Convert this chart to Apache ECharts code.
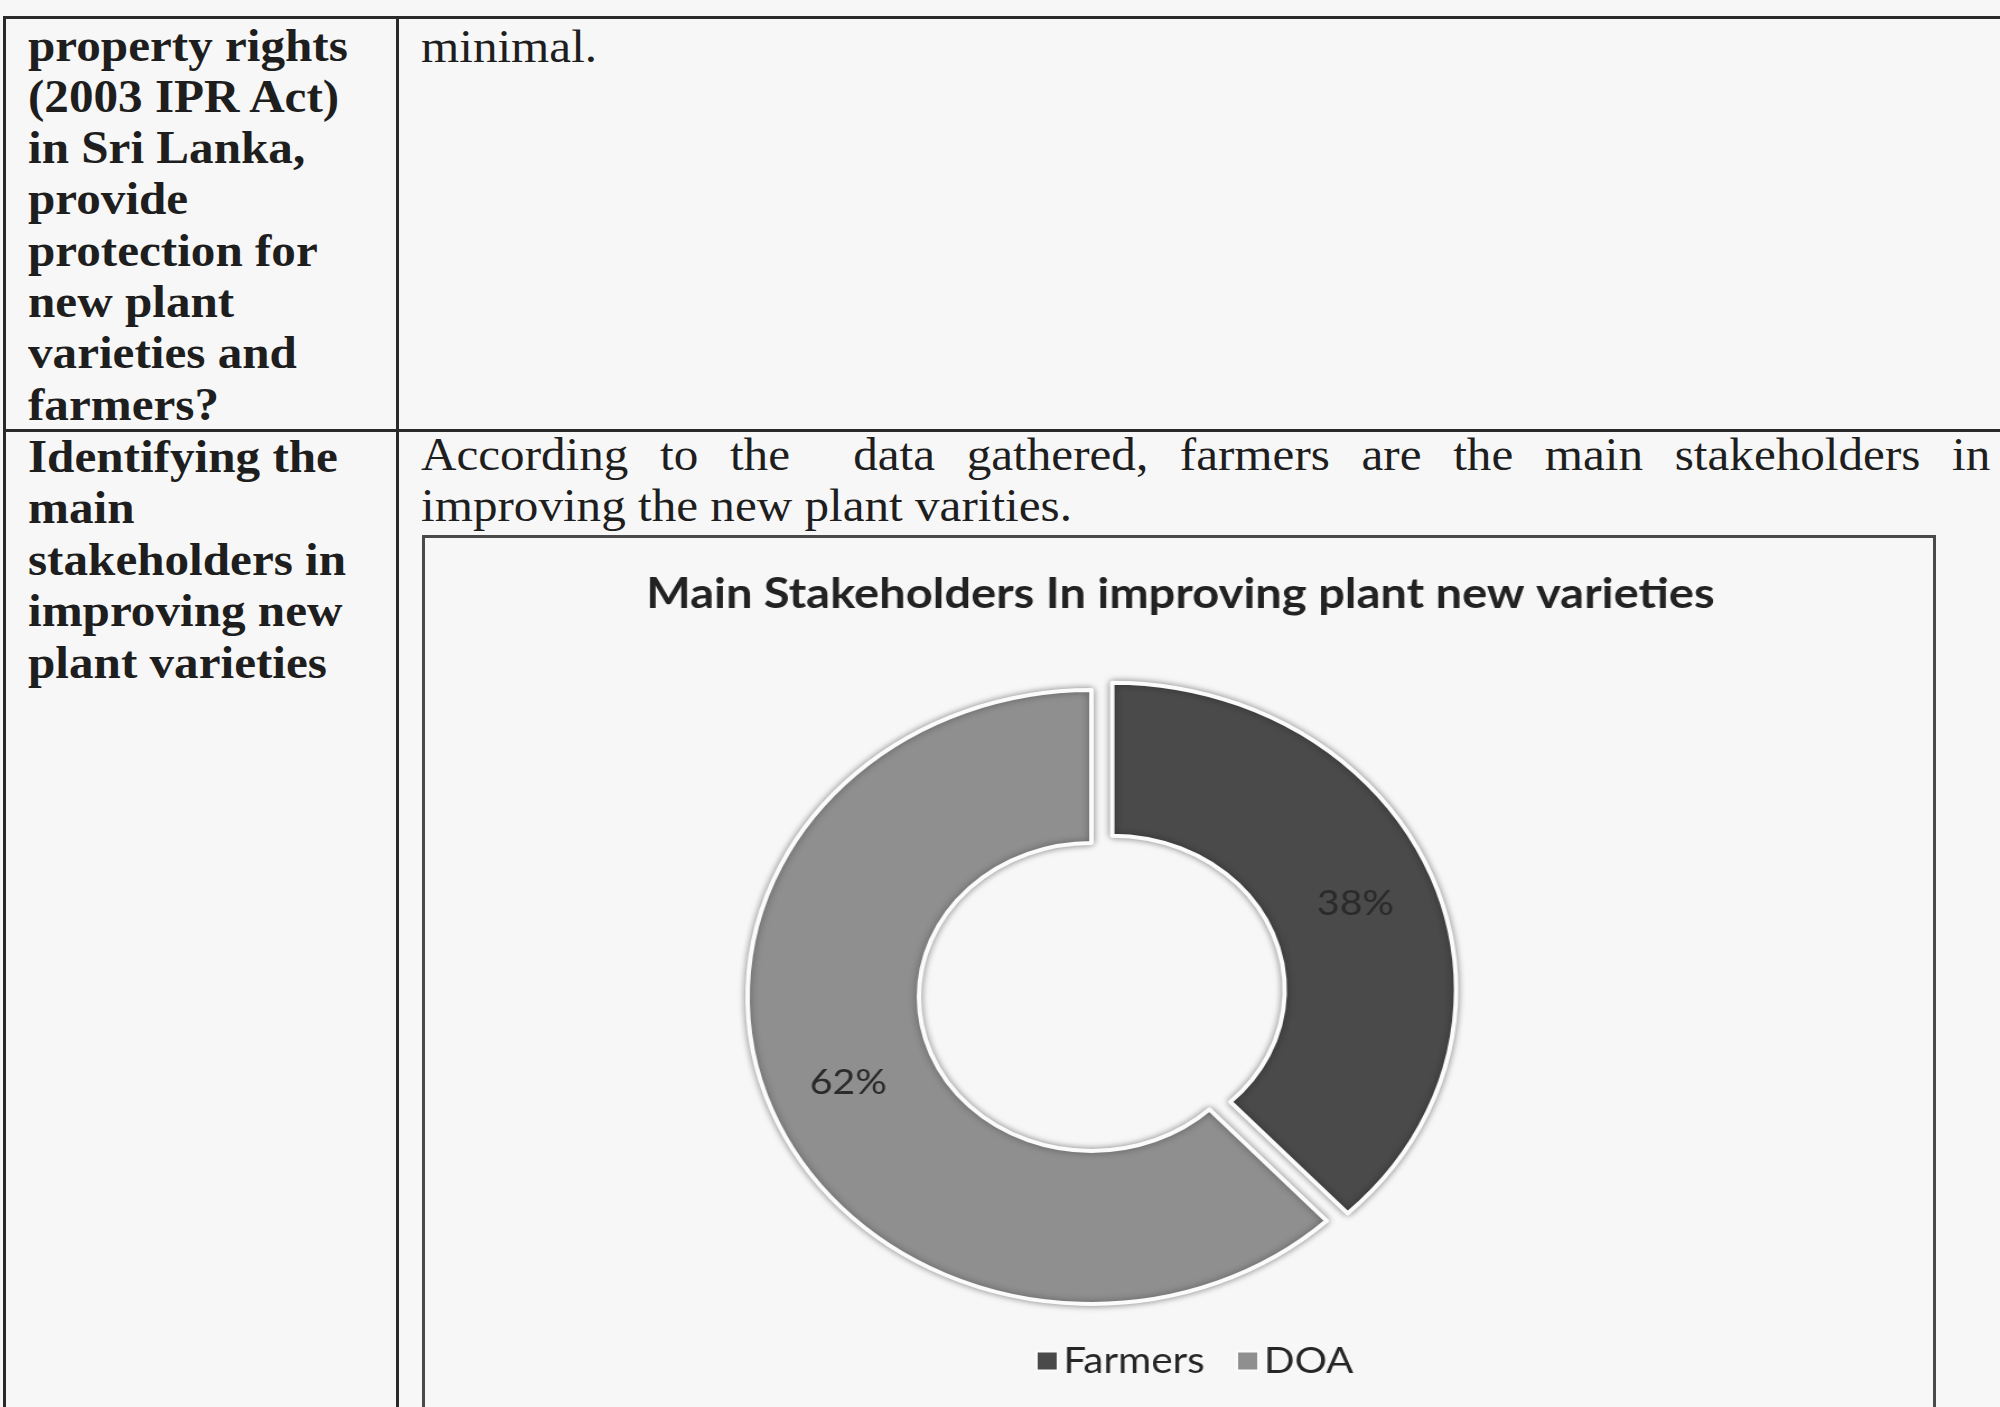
<!DOCTYPE html>
<html>
<head>
<meta charset="utf-8">
<script src="https://cdn.jsdelivr.net/npm/echarts@6/dist/echarts.min.js"></script>
<style>
  html, body { margin: 0; padding: 0; }
  body { width: 2000px; height: 1407px; background: #f7f7f7; position: relative; overflow: hidden; }
  .ln { position: absolute; background: #2a2a2a; }
  .txt {
    position: absolute; transform: scaleX(1.08); transform-origin: 0 0;
    font-family: "Liberation Serif", "Times New Roman", serif; font-size: 45.5px;
    color: #1e1e1e; white-space: nowrap;
  }
  .bold { font-weight: bold; }
  .box { position: absolute; left: 422px; top: 535px; width: 1514px; height: 900px; border: 3px solid #4a4a4a; box-sizing: border-box; }
  .StakeChart { position: absolute; left: 425px; top: 539px; transform: scaleX(1.12); transform-origin: 0 0; }
</style>
</head>
<body>
  <!-- table rules -->
  <div class="ln" style="left:3px;top:16px;width:1997px;height:3px"></div>
  <div class="ln" style="left:3px;top:16px;width:3px;height:1391px"></div>
  <div class="ln" style="left:396px;top:16px;width:3px;height:1391px"></div>
  <div class="ln" style="left:3px;top:429px;width:1997px;height:3px"></div>

  <div class="txt bold" style="left:28px;top:19.5px;line-height:51.3px">
    property rights<br>(2003 IPR Act)<br>in Sri Lanka,<br>provide<br>protection for<br>new plant<br>varieties and<br>farmers?
  </div>
  <div class="txt" style="left:421px;top:20.5px;line-height:51.3px">minimal.</div>

  <div class="txt bold" style="left:28px;top:431px;line-height:51.4px">
    Identifying the<br>main<br>stakeholders in<br>improving new<br>plant varieties
  </div>
  <div class="txt" style="left:421px;top:429px;line-height:51.4px;width:1453px;white-space:normal;text-align:justify;text-align-last:justify">According to the&nbsp; data gathered, farmers are the main stakeholders in</div>
  <div class="txt" style="left:421px;top:480.4px;line-height:51.4px">improving the new plant varities.</div>

  <div class="box"></div>
  <div class="StakeChart" style="width:1349px;height:868px"></div>

<script>
const chartTitle = "Main Stakeholders In improving plant new varieties";
const categories = ["Farmers", "DOA"];
const shares = [38, 62];
const sliceColors = ["#4a4a4a", "#8f8f8f"];

const chart = echarts.init(document.getElementsByClassName("StakeChart")[0], null, { renderer: "canvas" });

const option = {
  backgroundColor: "transparent",
  animation: false,
  color: sliceColors,
  title: {
    text: chartTitle,
    left: "center",
    top: 31,
    padding: 0,
    textStyle: {
      fontFamily: "Lato",
      fontWeight: "bold",
      fontSize: 42,
      lineHeight: 48,
      color: "#222222"
    }
  },
  legend: {
    data: categories,
    left: 545,
    top: 799,
    padding: 0,
    icon: "rect",
    itemWidth: 19,
    itemHeight: 19,
    itemGap: 28,
    textStyle: {
      fontFamily: "Lato",
      fontSize: 36,
      lineHeight: 46,
      color: "#262626"
    }
  },
  series: [
    {
      type: "pie",
      center: [595, 458],
      radius: [154, 307],
      startAngle: 90,
      clockwise: true,
      selectedMode: "single",
      selectedOffset: 20,
      avoidLabelOverlap: false,
      itemStyle: {
        borderColor: "#fbfbfb",
        borderWidth: 4,
        shadowBlur: 7,
        shadowColor: "rgba(0,0,0,0.4)"
      },
      label: {
        show: true,
        position: "inside",
        formatter: "{c}%",
        fontFamily: "Lato",
        fontSize: 35,
        color: "#2a2a2a"
      },
      labelLine: { show: false },
      emphasis: { disabled: true },
      data: categories.map((name, i) => ({
        name: name,
        value: shares[i],
        selected: i === 0
      }))
    }
  ]
};
chart.setOption(option, true);
</script>
</body>
</html>
